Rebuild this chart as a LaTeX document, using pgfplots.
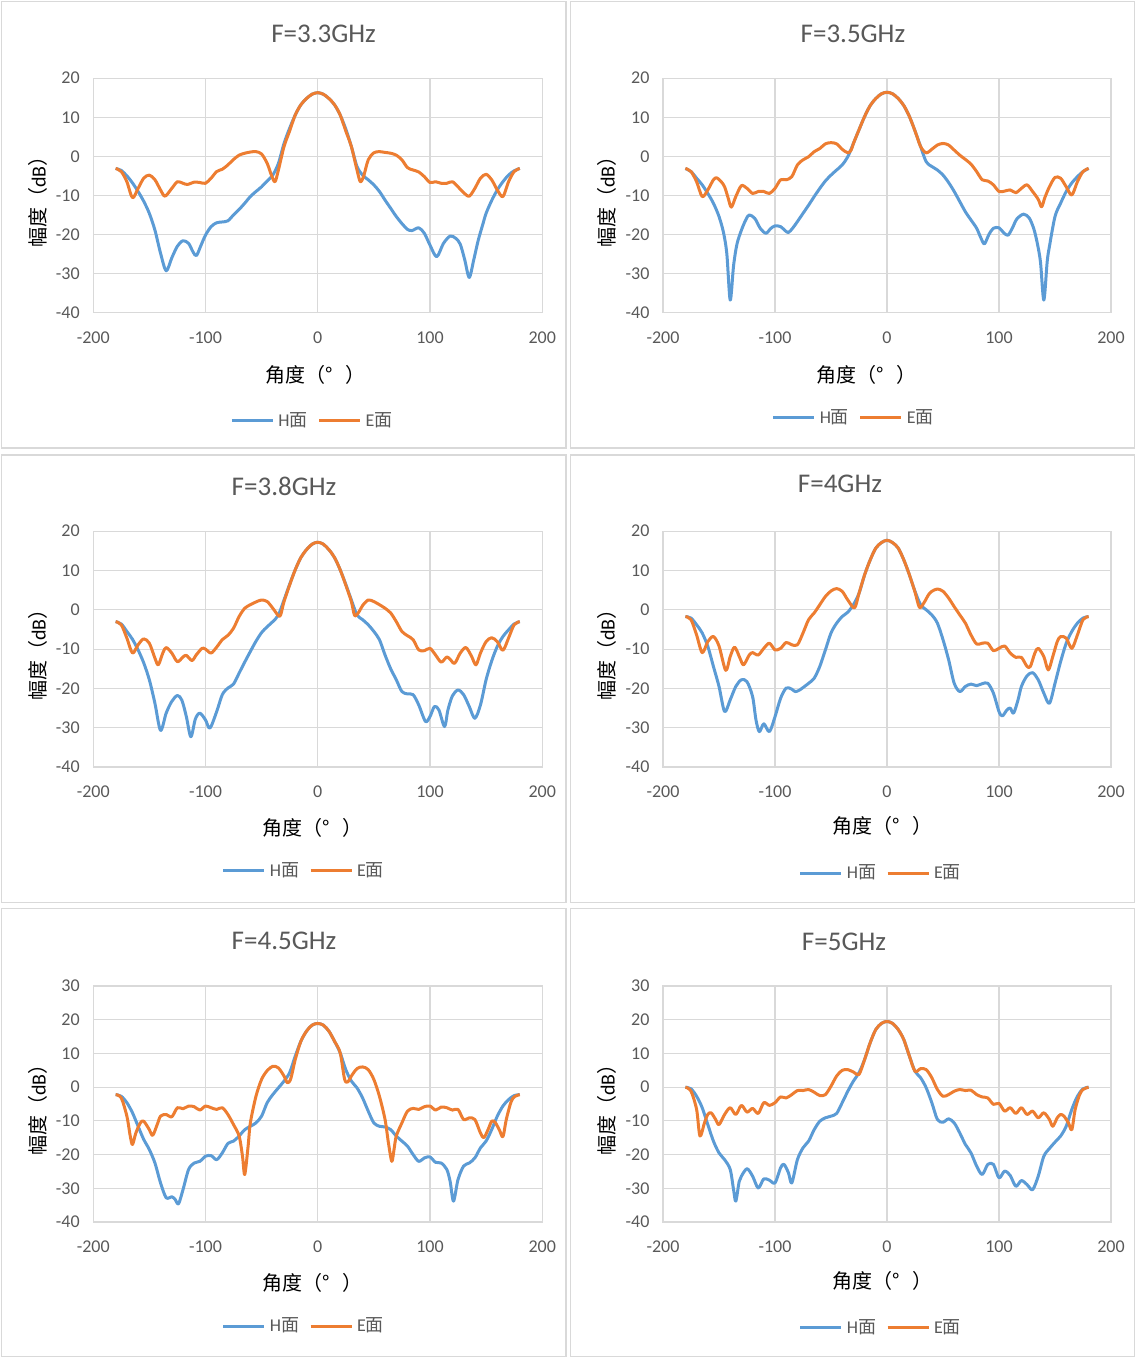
\documentclass[border=0pt]{standalone}
\usepackage{fontspec}
\setmainfont{Carlito}
\newfontfamily\cjk{Noto Sans CJK SC}
\usepackage{pgfplots}
\pgfplotsset{compat=1.18}
\definecolor{hblue}{HTML}{5B9BD5}
\definecolor{eorange}{HTML}{ED7D31}
\definecolor{gridc}{HTML}{D9D9D9}
\definecolor{txt}{HTML}{595959}
\definecolor{bordc}{HTML}{D9D9D9}
\pgfplotsset{
  panel/.style={
    scale only axis,
    xmin=-200, xmax=200,
    xtick={-200,-100,0,100,200},
    xticklabels={-200,-100,0,100,200},
    grid=major,
    major grid style={draw=gridc, line width=0.6pt},
    axis line style={draw=gridc, line width=0.6pt},
    major tick length=0pt,
    tick label style={font=\fontsize{9}{10}\selectfont, text=txt},
    xticklabel style={yshift=-6pt},
    yticklabel style={xshift=-3.25pt},
    label style={font=\fontsize{9.25}{11}\selectfont, text=txt},
    xlabel={{\cjk 角度（\makebox[1em][l]{°}）}},
    ylabel={{\cjk 幅度（}dB{\cjk ）}},
    legend style={draw=none, fill=none, legend columns=2, font=\fontsize{9}{10}\selectfont, text=txt,
      /tikz/every even column/.append style={column sep=3pt}, inner sep=0pt},
    legend image code/.code={\draw[#1] (0pt,0pt) -- (20.5pt,0pt);},
    every axis plot/.append style={line width=1.5pt, smooth, tension=0.5, line join=round},
    every axis title/.style={anchor=center, font=\fontsize{13.5}{16}\selectfont, text=txt},
  },
  toprow/.style={ymin=-40, ymax=20, ytick={-40,-30,-20,-10,0,10,20}, yticklabels={-40,-30,-20,-10,0,10,20}},
  botrow/.style={ymin=-40, ymax=30, ytick={-40,-30,-20,-10,0,10,20,30}, yticklabels={-40,-30,-20,-10,0,10,20,30}},
}
\begin{document}
\begin{tikzpicture}
\path[use as bounding box] (0,0) rectangle (568pt,-679pt);
% panel frames
\draw[bordc, line width=0.75pt] (0.75pt,-0.75pt) rectangle (283pt,-224pt);
\draw[bordc, line width=0.75pt] (285.25pt,-0.75pt) rectangle (567.25pt,-224pt);
\draw[bordc, line width=0.75pt] (0.75pt,-227.5pt) rectangle (283pt,-451.25pt);
\draw[bordc, line width=0.75pt] (285.25pt,-227.5pt) rectangle (567.25pt,-451.25pt);
\draw[bordc, line width=0.75pt] (0.75pt,-454.25pt) rectangle (283pt,-678.25pt);
\draw[bordc, line width=0.75pt] (285.25pt,-454.25pt) rectangle (567.25pt,-678.25pt);

% ---------- F=3.3GHz
\begin{axis}[panel, toprow, at={(46.6pt,-156.3pt)}, anchor=south west, width=224.5pt, height=117.2pt,
  title={F=3.3GHz}, title style={at={(axis description cs:0.513,1.191)}},
  every axis x label/.style={at={(axis description cs:0.495,-0.266)}, anchor=center},
  every axis y label/.style={at={(axis description cs:-0.123,0.494)}, rotate=90, anchor=center},
  legend style={at={(axis description cs:0.4905,-0.462)}, anchor=center}]
\addplot[hblue] coordinates {(-180,-3.1)(-175,-3.6)(-170,-5)(-165,-6.8)(-160,-9)(-155,-11.5)(-150,-14.6)(-145,-18.9)(-140,-24.8)(-135,-29.3)(-130,-26)(-125,-23)(-120,-21.6)(-115,-22.3)(-111,-24.5)(-108,-25.4)(-104,-22.8)(-100,-20.2)(-95,-18)(-90,-17)(-85,-16.8)(-80,-16.5)(-75,-15)(-70,-13.6)(-65,-12)(-60,-10.3)(-55,-9)(-50,-7.8)(-45,-6.3)(-40,-4.8)(-35,-1.8)(-30,3.3)(-25,7.2)(-20,10.6)(-15,13.2)(-10,14.8)(-5,15.9)(0,16.3)(5,15.9)(10,14.8)(15,13.2)(20,10.6)(25,7)(30,2.5)(35,-2.6)(40,-4.8)(45,-6)(50,-7.3)(55,-9)(60,-11.2)(65,-13.3)(70,-15.4)(75,-17.2)(80,-18.7)(84,-19)(90,-18.3)(95,-19.7)(100,-22.7)(106,-25.7)(112,-22.3)(118,-20.4)(123,-21)(127,-22.5)(131,-26.5)(135,-31)(139,-26.5)(143,-21.5)(147,-17.5)(150,-14.6)(155,-11.3)(160,-8.6)(165,-6.5)(170,-4.8)(175,-3.7)(180,-3.1)};
\addlegendentry{H{\cjk 面}}
\addplot[eorange] coordinates {(-180,-3.1)(-175,-3.9)(-170,-6.5)(-165,-10.6)(-160,-8.2)(-155,-5.6)(-150,-4.8)(-145,-6)(-140,-8.6)(-136,-10.2)(-130,-8.2)(-125,-6.5)(-120,-6.9)(-116,-7.2)(-110,-6.6)(-105,-6.7)(-100,-6.9)(-95,-5.6)(-90,-3.9)(-85,-3.3)(-80,-2.2)(-75,-0.8)(-70,0.3)(-65,0.8)(-60,1.1)(-55,1.2)(-50,0.6)(-45,-1.8)(-41,-5)(-38,-6.5)(-35,-3.5)(-30,2.5)(-25,6.5)(-20,10.6)(-15,13.2)(-10,14.8)(-5,15.9)(0,16.3)(5,15.9)(10,14.8)(15,13.2)(20,10.6)(25,6.5)(30,2.5)(35,-3.5)(38,-6.5)(41,-5)(45,-0.9)(50,0.9)(55,1.2)(60,1)(65,0.8)(70,0.3)(75,-0.9)(80,-2.9)(85,-3.5)(90,-4)(95,-5.2)(100,-6.7)(105,-6.5)(110,-6.9)(115,-6.9)(120,-6.5)(125,-7.8)(130,-9.3)(135,-10.2)(140,-8.2)(145,-5.6)(150,-4.6)(155,-6)(160,-8.6)(165,-10.3)(170,-6.5)(175,-3.9)(180,-3.1)};
\addlegendentry{E{\cjk 面}}
\end{axis}

% ---------- F=3.5GHz
\begin{axis}[panel, toprow, at={(331.5pt,-156.3pt)}, anchor=south west, width=224pt, height=117.2pt,
  title={F=3.5GHz}, title style={at={(axis description cs:0.424,1.191)}},
  every axis x label/.style={at={(axis description cs:0.455,-0.266)}, anchor=center},
  every axis y label/.style={at={(axis description cs:-0.125,0.494)}, rotate=90, anchor=center},
  legend style={at={(axis description cs:0.428,-0.449)}, anchor=center}]
\addplot[hblue] coordinates {(-180,-3.1)(-175,-3.9)(-170,-5.6)(-165,-7.3)(-160,-9.5)(-155,-12)(-150,-15.4)(-146,-19.5)(-143,-25)(-140,-36.8)(-137,-28)(-134,-22.5)(-130,-18.9)(-126,-16.2)(-123,-15)(-118,-15.9)(-113,-18.5)(-108,-19.7)(-104,-18.5)(-100,-17.8)(-95,-18)(-91,-19)(-88,-19.5)(-84,-18.3)(-80,-16.7)(-75,-14.6)(-70,-12.5)(-65,-10.3)(-60,-8.2)(-55,-6.3)(-50,-4.8)(-45,-3.5)(-40,-2.2)(-35,-0.1)(-30,3.3)(-25,6.8)(-20,10.2)(-15,13)(-10,14.8)(-5,16)(0,16.4)(5,16)(10,14.8)(15,13)(20,10.2)(25,6.5)(30,2.5)(35,-1.4)(40,-2.6)(45,-3.5)(50,-4.8)(55,-6.7)(60,-9)(65,-11.6)(70,-14.2)(75,-16.3)(80,-18.4)(84,-21)(87,-22.4)(91,-20)(95,-18.4)(100,-18.3)(104,-19.5)(108,-20.2)(112,-18.3)(116,-16)(122,-14.8)(127,-15.8)(131,-18.5)(134,-22)(137,-27)(140,-36.8)(143,-27)(145,-23.1)(150,-15.4)(155,-12)(160,-9)(165,-6.8)(170,-5.2)(175,-3.9)(180,-3.1)};
\addlegendentry{H{\cjk 面}}
\addplot[eorange] coordinates {(-180,-3.1)(-175,-3.9)(-170,-6.5)(-165,-10.3)(-160,-8.6)(-155,-6)(-152,-5.5)(-148,-6.5)(-145,-7.8)(-142,-10.5)(-139,-13)(-135,-10.3)(-130,-7.5)(-125,-8.2)(-120,-9.5)(-115,-9)(-110,-9)(-105,-9.5)(-100,-8.2)(-95,-6)(-90,-6)(-85,-5.2)(-80,-2.2)(-75,-0.9)(-70,-0.1)(-65,1.2)(-60,2)(-55,3.2)(-50,3.5)(-45,3.2)(-40,1.8)(-35,0.9)(-32,1.6)(-30,3.3)(-25,6.8)(-20,10.2)(-15,13)(-10,14.8)(-5,16)(0,16.4)(5,16)(10,14.8)(15,13)(20,10.2)(25,6.5)(30,2.5)(35,0.9)(40,1.8)(45,2.9)(50,3.3)(55,2.9)(60,1.6)(65,0.3)(70,-0.8)(75,-2)(80,-3.9)(85,-6)(90,-6.3)(95,-7.3)(100,-9)(105,-8.9)(110,-8.6)(115,-9.3)(120,-8.2)(125,-7.3)(130,-9)(135,-11)(138,-12.9)(141,-10.5)(145,-7.8)(150,-5.4)(155,-5.6)(160,-7.8)(165,-9.9)(170,-6.5)(175,-3.9)(180,-3.1)};
\addlegendentry{E{\cjk 面}}
\end{axis}

% ---------- F=3.8GHz
\begin{axis}[panel, toprow, at={(46.6pt,-383.5pt)}, anchor=south west, width=224.5pt, height=117.9pt,
  title={F=3.8GHz}, title style={at={(axis description cs:0.425,1.19)}},
  every axis x label/.style={at={(axis description cs:0.488,-0.259)}, anchor=center},
  every axis y label/.style={at={(axis description cs:-0.123,0.496)}, rotate=90, anchor=center},
  legend style={at={(axis description cs:0.4716,-0.441)}, anchor=center}]
\addplot[hblue] coordinates {(-180,-3)(-175,-3.6)(-170,-5.5)(-165,-7.5)(-160,-10.2)(-155,-13.5)(-150,-17.8)(-145,-23.8)(-140,-30.7)(-135,-26.3)(-130,-23.3)(-125,-21.8)(-121,-23)(-117,-27.2)(-113,-32.3)(-109,-27.8)(-105,-26.3)(-100,-28)(-96,-30.1)(-90,-25.9)(-85,-21.6)(-80,-19.9)(-75,-18.9)(-70,-16.1)(-65,-13.3)(-60,-10.6)(-55,-8)(-50,-5.8)(-45,-4.3)(-40,-3)(-35,-1.3)(-30,2.5)(-25,6.5)(-20,10.2)(-15,13.3)(-10,15.3)(-5,16.7)(0,17.2)(5,16.7)(10,15.3)(15,13.3)(20,10.2)(25,6.5)(30,2.5)(35,-1.3)(40,-2.5)(45,-3.8)(50,-5.5)(55,-7.6)(60,-11.5)(65,-15)(70,-17.8)(75,-20.8)(80,-21.4)(85,-21.6)(90,-24.2)(96,-28.4)(100,-27.2)(104,-24.6)(108,-25.5)(113,-29.7)(116,-25.5)(120,-21.9)(125,-20.4)(130,-21.6)(135,-24.6)(140,-27.6)(145,-24.2)(150,-17.8)(155,-13)(160,-9.3)(165,-6.8)(170,-5.1)(175,-3.6)(180,-3)};
\addlegendentry{H{\cjk 面}}
\addplot[eorange] coordinates {(-180,-3)(-175,-3.8)(-170,-7.2)(-165,-11)(-160,-8.9)(-155,-7.4)(-150,-8.5)(-145,-12.3)(-142,-14)(-138,-11)(-135,-9.6)(-130,-11)(-125,-13.2)(-120,-12)(-117,-11.6)(-112,-12.9)(-108,-11.4)(-103,-9.8)(-100,-10)(-95,-11)(-90,-9.5)(-85,-7.6)(-80,-6.5)(-75,-4.7)(-70,-1.7)(-65,0.4)(-60,1.3)(-55,2)(-50,2.5)(-45,2.1)(-40,0.4)(-35,-1.5)(-33,-1.3)(-30,2.1)(-25,6.3)(-20,10.2)(-15,13.3)(-10,15.3)(-5,16.7)(0,17.2)(5,16.7)(10,15.3)(15,13.3)(20,10.2)(25,6.3)(30,2.1)(33,-1.5)(37,-0.4)(40,1.1)(45,2.5)(50,2.1)(55,1.3)(60,0.4)(65,-0.8)(70,-3)(75,-5.5)(80,-6.6)(85,-7.6)(90,-10.2)(95,-10.4)(100,-9.8)(105,-11.5)(110,-13.3)(115,-12)(118,-12.6)(122,-13.6)(127,-11)(132,-9.6)(137,-11.8)(141,-14)(145,-11)(150,-8.1)(155,-7.1)(160,-8.1)(165,-10.3)(170,-7.2)(175,-3.8)(180,-3)};
\addlegendentry{E{\cjk 面}}
\end{axis}

% ---------- F=4GHz
\begin{axis}[panel, toprow, at={(331.5pt,-383.5pt)}, anchor=south west, width=224pt, height=117.9pt,
  title={F=4GHz}, title style={at={(axis description cs:0.395,1.201)}},
  every axis x label/.style={at={(axis description cs:0.491,-0.25)}, anchor=center},
  every axis y label/.style={at={(axis description cs:-0.125,0.496)}, rotate=90, anchor=center},
  legend style={at={(axis description cs:0.4885,-0.45)}, anchor=center}]
\addplot[hblue] coordinates {(-180,-1.7)(-175,-2.1)(-170,-3.8)(-165,-5.9)(-160,-9.3)(-155,-14.4)(-150,-19.5)(-145,-25.9)(-140,-22.9)(-135,-19.5)(-130,-17.8)(-125,-18.3)(-120,-22.1)(-117,-28)(-114,-31)(-110,-29)(-105,-31)(-100,-27.2)(-95,-22.5)(-90,-19.9)(-85,-20.2)(-82,-20.8)(-78,-20.4)(-70,-18.7)(-65,-17.4)(-60,-14.4)(-55,-10.2)(-50,-5.9)(-45,-3.4)(-40,-1.7)(-35,-0.6)(-30,1.3)(-25,4.2)(-20,8.9)(-15,12.7)(-10,15.7)(-5,17.1)(0,17.7)(5,17.1)(10,15.7)(15,12.7)(20,8.9)(25,4.7)(30,1.3)(35,0)(40,-1.3)(45,-3.4)(50,-7.6)(55,-12.7)(60,-18.7)(65,-20.8)(70,-19.5)(75,-18.9)(80,-19.3)(85,-18.8)(90,-18.7)(95,-21.2)(100,-25.9)(103,-27)(107,-25.5)(110,-25)(113,-26.3)(117,-22.9)(120,-19.5)(125,-16.8)(130,-16)(135,-17.8)(140,-21.2)(145,-23.8)(150,-18.7)(155,-13.2)(160,-8.5)(165,-5.5)(170,-3.4)(175,-2.1)(180,-1.7)};
\addlegendentry{H{\cjk 面}}
\addplot[eorange] coordinates {(-180,-1.7)(-175,-2.5)(-170,-6.4)(-165,-10.9)(-160,-8.1)(-155,-6.8)(-150,-9.2)(-144,-15.4)(-140,-11.9)(-136,-9.5)(-131,-12.5)(-128,-14)(-123,-11.5)(-120,-10.9)(-115,-11.5)(-110,-9.8)(-105,-8.5)(-100,-10.2)(-95,-9.8)(-90,-8.3)(-85,-8.9)(-80,-8.9)(-75,-5.9)(-70,-2.5)(-65,-0.8)(-60,1.3)(-55,3.4)(-50,4.8)(-45,5.4)(-40,4.7)(-35,2.5)(-29,0.5)(-25,4.2)(-20,8.9)(-15,12.7)(-10,15.7)(-5,17.1)(0,17.7)(5,17.1)(10,15.7)(15,12.7)(20,8.9)(25,4.5)(29,0.6)(33,1.8)(37,3.8)(40,4.7)(45,5.3)(50,4.7)(55,3)(60,0.8)(65,-1.3)(70,-3.4)(75,-6.4)(80,-8.7)(85,-8.5)(90,-8.5)(95,-10.4)(100,-9.8)(105,-9.2)(110,-11)(115,-12.1)(120,-12.1)(125,-14.4)(128,-14.4)(132,-11)(135,-9.8)(140,-11.9)(144,-15.3)(148,-11.9)(152,-8.1)(155,-6.8)(160,-7.2)(165,-9.8)(170,-6.4)(175,-2.5)(180,-1.7)};
\addlegendentry{E{\cjk 面}}
\end{axis}

% ---------- F=4.5GHz
\begin{axis}[panel, botrow, at={(46.6pt,-611pt)}, anchor=south west, width=224.5pt, height=118pt,
  title={F=4.5GHz}, title style={at={(axis description cs:0.425,1.191)}},
  every axis x label/.style={at={(axis description cs:0.488,-0.258)}, anchor=center},
  every axis y label/.style={at={(axis description cs:-0.123,0.496)}, rotate=90, anchor=center},
  legend style={at={(axis description cs:0.4716,-0.441)}, anchor=center}]
\addplot[hblue] coordinates {(-180,-2.2)(-175,-2.7)(-170,-4.6)(-165,-7.6)(-160,-11.6)(-155,-15.5)(-150,-18.5)(-145,-22.5)(-140,-28.4)(-135,-32.8)(-130,-32.5)(-127,-33.3)(-124,-34.6)(-120,-30.4)(-115,-24.4)(-110,-22.5)(-105,-22)(-100,-20.5)(-95,-20.3)(-90,-21.5)(-85,-19.5)(-80,-16.7)(-75,-16)(-70,-14.5)(-65,-12.6)(-60,-11.6)(-55,-10.6)(-50,-8.6)(-45,-4.6)(-40,-2.2)(-35,-0.2)(-30,1.8)(-25,4.3)(-20,9.2)(-15,13.6)(-10,16.6)(-5,18.4)(0,18.9)(5,18.4)(10,16.6)(15,13.6)(20,10.2)(25,5.2)(30,1.8)(35,-0.2)(40,-3.2)(45,-7.1)(50,-10.6)(55,-11.6)(60,-11.8)(65,-12.6)(70,-14.5)(75,-16)(80,-17.5)(85,-20)(90,-22)(95,-21)(100,-20.7)(105,-22.3)(110,-22.5)(115,-24.4)(118,-28)(121,-33.8)(125,-27.4)(130,-23.4)(135,-22.5)(140,-21)(145,-18)(150,-16)(155,-12.6)(160,-8.6)(165,-5.6)(170,-3.7)(175,-2.5)(180,-2.2)};
\addlegendentry{H{\cjk 面}}
\addplot[eorange] coordinates {(-180,-2.2)(-175,-3.2)(-170,-8.6)(-167,-14.5)(-165,-17)(-162,-13.6)(-158,-10.6)(-155,-10.1)(-150,-12.6)(-147,-14.3)(-143,-11.1)(-140,-8.6)(-135,-8.1)(-130,-8.8)(-125,-6.1)(-120,-6.4)(-115,-5.6)(-110,-5.8)(-105,-6.8)(-100,-5.6)(-95,-6.1)(-90,-6.6)(-85,-6.1)(-80,-8.1)(-75,-11.1)(-70,-14.5)(-67,-20.5)(-65,-25.9)(-62,-17.5)(-60,-10.6)(-55,-2.7)(-50,2.3)(-45,4.9)(-40,6.2)(-35,5.7)(-30,3.3)(-27,1.3)(-24,2.5)(-20,8.2)(-15,13.6)(-10,16.6)(-5,18.4)(0,18.9)(5,18.4)(10,16.6)(15,13.6)(20,10.2)(24,2.3)(27,1.6)(30,3.3)(35,5.5)(40,6)(45,5.2)(50,2.3)(55,-2.7)(60,-9.6)(63,-16.5)(66,-22)(68,-18.5)(70,-14.5)(75,-10.6)(80,-7.1)(85,-6.3)(90,-6.6)(95,-5.8)(100,-5.6)(105,-6.8)(110,-5.9)(115,-6.1)(120,-6.8)(125,-6.6)(130,-9.6)(135,-9.1)(140,-9.6)(145,-13.6)(148,-15)(152,-12.4)(155,-10.1)(158,-10.4)(162,-12.8)(165,-14.7)(168,-9.6)(172,-4.6)(175,-2.9)(180,-2.2)};
\addlegendentry{E{\cjk 面}}
\end{axis}

% ---------- F=5GHz
\begin{axis}[panel, botrow, at={(331.5pt,-611pt)}, anchor=south west, width=224pt, height=118pt,
  title={F=5GHz}, title style={at={(axis description cs:0.404,1.189)}},
  every axis x label/.style={at={(axis description cs:0.491,-0.25)}, anchor=center},
  every axis y label/.style={at={(axis description cs:-0.125,0.496)}, rotate=90, anchor=center},
  legend style={at={(axis description cs:0.4885,-0.449)}, anchor=center}]
\addplot[hblue] coordinates {(-180,0)(-175,-0.5)(-170,-2.7)(-165,-6.1)(-160,-11.1)(-155,-16)(-150,-19.5)(-145,-21.5)(-140,-24.4)(-137,-30.4)(-135,-33.8)(-132,-28)(-130,-26.4)(-125,-24.2)(-120,-26.4)(-115,-29.9)(-110,-27.2)(-105,-27.6)(-100,-28.4)(-95,-23.9)(-92,-22.9)(-88,-25.4)(-85,-28.4)(-80,-21.5)(-75,-18)(-70,-16)(-65,-12.6)(-60,-10.1)(-55,-9.1)(-50,-8.6)(-45,-7.8)(-40,-4.6)(-35,-1.2)(-30,1.8)(-25,4.3)(-20,8.2)(-15,13.2)(-10,17.1)(-5,18.9)(0,19.5)(5,18.9)(10,17.1)(15,14.1)(20,9.2)(25,4.7)(30,2.8)(35,-0.2)(40,-4.6)(45,-9.6)(50,-10.4)(55,-9.4)(60,-10.6)(65,-13.6)(70,-17)(75,-19.5)(80,-23.4)(85,-25.9)(90,-22.9)(95,-22.9)(100,-26.9)(105,-24.9)(110,-26.2)(115,-29.4)(120,-27.7)(125,-28.9)(130,-30.4)(135,-26.4)(140,-20.5)(145,-18.2)(150,-16.3)(155,-14.5)(160,-11.6)(165,-6.6)(170,-2.7)(175,-0.5)(180,0)};
\addlegendentry{H{\cjk 面}}
\addplot[eorange] coordinates {(-180,0)(-175,-1.2)(-170,-6.6)(-167,-14.5)(-163,-10.6)(-160,-8.1)(-157,-7.6)(-153,-9.6)(-150,-11.1)(-145,-8.1)(-140,-6.1)(-135,-8.1)(-130,-5.4)(-125,-7.4)(-120,-6.3)(-115,-7.8)(-110,-4.6)(-105,-5.4)(-100,-4.6)(-95,-2.9)(-90,-3.2)(-85,-2.2)(-80,-1)(-75,-1)(-70,-0.7)(-65,-1.5)(-60,-2.5)(-55,-2.2)(-50,0.3)(-45,3.3)(-40,5)(-35,5.2)(-30,4.5)(-25,3.8)(-20,8.2)(-15,13.2)(-10,17.1)(-5,18.9)(0,19.5)(5,18.9)(10,17.1)(15,14.1)(20,9.2)(25,4.7)(30,5.5)(35,5.2)(40,2.8)(45,-0.7)(50,-2.7)(55,-2.2)(60,-1.2)(65,-0.7)(70,-1)(75,-0.9)(80,-2.2)(85,-2.9)(90,-3.2)(95,-5.1)(100,-4.8)(105,-7.1)(110,-6.1)(115,-7.8)(120,-6.1)(125,-8.1)(130,-7.1)(135,-9.1)(140,-7.6)(145,-9.6)(148,-11.6)(152,-9.1)(155,-8.1)(158,-8.6)(162,-10.6)(165,-12.6)(168,-6.6)(172,-2.2)(175,-0.7)(180,0)};
\addlegendentry{E{\cjk 面}}
\end{axis}
\end{tikzpicture}
\end{document}
